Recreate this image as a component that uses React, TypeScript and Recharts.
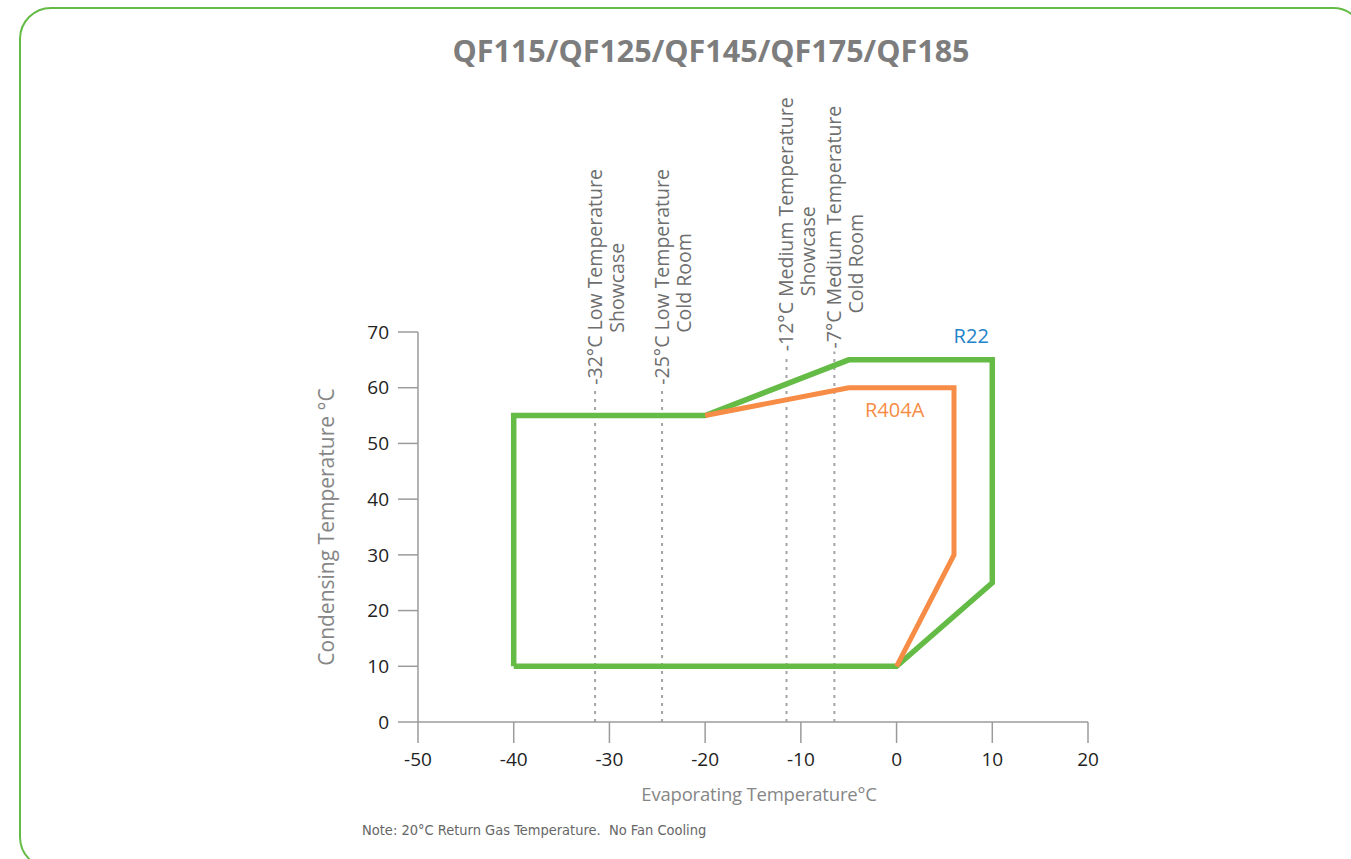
import React from "react";
import { LineChart, Line, XAxis, YAxis, ReferenceLine, ReferenceDot } from "recharts";

// axis ticks
const X_TICKS = [-50, -40, -30, -20, -10, 0, 10, 20];
const Y_TICKS = [0, 10, 20, 30, 40, 50, 60, 70];

// operating envelopes (evaporating / condensing, °C)
const R22_EVAP = [-40, -40, -20, -5, 10, 10, 0, -40];
const R22_COND = [10, 55, 55, 65, 65, 25, 10, 10];
const R404A_EVAP = [-20, -5, 6, 6, 0];
const R404A_COND = [55, 60, 60, 30, 10];

// application lines (where they sit in the picture, slightly right of the stated temps)
const APP_POS = [-31.5, -24.5, -11.5, -6.5];
const APP_TOPS = [60, 60, 66, 66.5];
const APP_LINE1 = [
  "-32°C Low Temperature",
  "-25°C Low Temperature",
  "-12°C Medium Temperature",
  "-7°C Medium Temperature",
];
const APP_LINE2 = ["Showcase", "Cold Room", "Showcase", "Cold Room"];

// second line shift along the text (px)
const SUB_SHIFT = [52, 52, 55, 35];

const GREEN = "#64bb46";
const ORANGE = "#f68c45";
const AXIS = "#9b9b9b";
const FONT = "'Open Sans', sans-serif";

const r22 = R22_EVAP.map((x, i) => ({ x, y: R22_COND[i] }));
const r404a = R404A_EVAP.map((x, i) => ({ x, y: R404A_COND[i] }));

const appLabel = (i: number) => (props: any) => {
  const vb = props.viewBox || {};
  const x = vb.x;
  const y1 = vb.y - 3;
  const y2 = y1 - SUB_SHIFT[i];
  return (
    <g fill="#6e6e6e" fontSize={19.5} fontFamily={FONT}>
      <text x={x} y={y1} dy="0.35em" textAnchor="start" transform={`rotate(-90 ${x} ${y1})`}>
        {APP_LINE1[i]}
      </text>
      <text x={x + 22} y={y2} dy="0.35em" textAnchor="start" transform={`rotate(-90 ${x + 22} ${y2})`}>
        {APP_LINE2[i]}
      </text>
    </g>
  );
};

const yTitle = (props: any) => {
  const vb = props.viewBox || { x: 298, y: 332, width: 120, height: 390 };
  const x = vb.x + 29;
  const y = vb.y + vb.height / 2;
  return (
    <text
      x={x}
      y={y}
      dy="0.35em"
      textAnchor="middle"
      fill="#868686"
      fontSize={21}
      fontFamily={FONT}
      transform={`rotate(-90 ${x} ${y})`}
    >
      Condensing Temperature °C
    </text>
  );
};

const xTitle = (props: any) => {
  const vb = props.viewBox || { x: 418, y: 722, width: 670, height: 60 };
  const x = vb.x + vb.width / 2 + 6;
  const y = vb.y + 73;
  return (
    <text x={x} y={y} dy="0.35em" textAnchor="middle" fill="#868686" fontSize={18.5} fontFamily={FONT} letterSpacing={-0.2}>
      Evaporating Temperature°C
    </text>
  );
};

export default function App() {
  return (
    <div style={{ position: "absolute", left: 0, top: 0, width: 1351, height: 859, overflow: "hidden", background: "#fff" }}>
      <div
        style={{
          position: "absolute",
          left: 19,
          top: 7,
          width: 1346,
          height: 862,
          border: `2.5px solid ${GREEN}`,
          borderRadius: 32,
          boxSizing: "border-box",
        }}
      />
      <div
        style={{
          position: "absolute",
          left: 711,
          top: 35,
          transform: "translateX(-50%)",
          whiteSpace: "nowrap",
          fontFamily: FONT,
          fontWeight: 700,
          fontSize: 30.5,
          lineHeight: 1,
          color: "#7d7d7d",
        }}
      >
        QF115/QF125/QF145/QF175/QF185
      </div>

      <div style={{ position: "absolute", left: 0, top: 0 }}>
        <LineChart width={1351} height={859} margin={{ top: 332, right: 263, bottom: 77, left: 298 }}>
          <XAxis
            type="number"
            dataKey="x"
            domain={[-50, 20]}
            ticks={X_TICKS}
            interval={0}
            height={60}
            tickSize={21}
            tickMargin={10}
            axisLine={{ stroke: AXIS, strokeWidth: 1.5 }}
            tickLine={{ stroke: AXIS, strokeWidth: 1.5 }}
            tick={{ fill: "#222", fontSize: 19, fontFamily: FONT }}
            label={{ content: xTitle }}
          />
          <YAxis
            type="number"
            domain={[0, 70]}
            ticks={Y_TICKS}
            interval={0}
            width={120}
            tickSize={20}
            tickMargin={9}
            axisLine={{ stroke: AXIS, strokeWidth: 1.5 }}
            tickLine={{ stroke: AXIS, strokeWidth: 1.5 }}
            tick={{ fill: "#222", fontSize: 19, fontFamily: FONT }}
            label={{ content: yTitle }}
          />
          {APP_POS.map((t, i) => (
            <ReferenceLine
              key={t}
              segment={[
                { x: t, y: 0 },
                { x: t, y: APP_TOPS[i] },
              ]}
              stroke="#a3a3a3"
              strokeWidth={2}
              strokeDasharray="3 5"
              label={{ content: appLabel(i) }}
            />
          ))}
          <Line
            data={r22}
            dataKey="y"
            type="linear"
            stroke={GREEN}
            strokeWidth={5.5}
            strokeLinejoin="miter"
            dot={false}
            activeDot={false}
            isAnimationActive={false}
          />
          <Line
            data={r404a}
            dataKey="y"
            type="linear"
            stroke={ORANGE}
            strokeWidth={5}
            strokeLinejoin="miter"
            dot={false}
            activeDot={false}
            isAnimationActive={false}
          />
          <ReferenceDot
            x={7.8}
            y={69.3}
            r={1}
            fill="none"
            stroke="none"
            label={{ value: "R22", position: "center", fill: "#2383c8", fontSize: 20, fontFamily: FONT }}
          />
          <ReferenceDot
            x={-0.2}
            y={56}
            r={1}
            fill="none"
            stroke="none"
            label={{ value: "R404A", position: "center", fill: ORANGE, fontSize: 20, fontFamily: FONT }}
          />
        </LineChart>
      </div>

      <div
        style={{
          position: "absolute",
          left: 362,
          top: 822,
          fontFamily: "'Liberation Sans Narrow', 'DejaVu Sans Condensed', 'Open Sans', sans-serif",
          fontSize: 14.5,
          lineHeight: "16px",
          color: "#666",
          whiteSpace: "nowrap",
        }}
      >
        Note: 20°C Return Gas Temperature.&nbsp; No Fan Cooling
      </div>
    </div>
  );
}
